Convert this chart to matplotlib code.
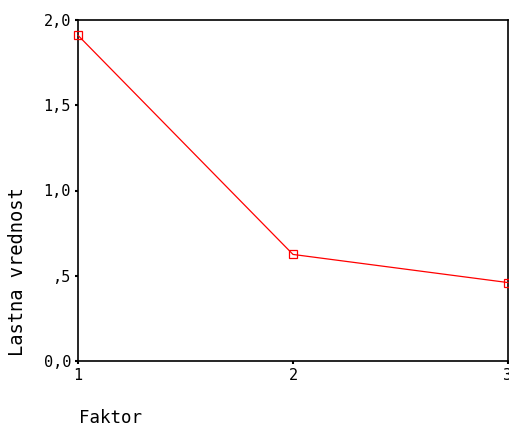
import matplotlib
matplotlib.use("Agg")
import matplotlib.pyplot as plt

factors = [1, 2, 3]
eigenvalues = [1.91, 0.625, 0.46]
y_ticks = [0.0, 0.5, 1.0, 1.5, 2.0]
y_labels = ["0,0", ",5", "1,0", "1,5", "2,0"]

plt.rcParams["font.family"] = "DejaVu Sans Mono"

fig = plt.figure(figsize=(5.1, 4.26), dpi=100)
ax = fig.add_axes([78 / 510, 65 / 426, 430 / 510, 341 / 426])

ax.plot(factors, eigenvalues, color="red", lw=0.9, marker="s", ms=6,
        mfc="none", mec="red", mew=0.9, clip_on=False, zorder=3)

ax.set_xlim(1, 3)
ax.set_ylim(0, 2.0)
ax.set_xticks(factors)
ax.set_xticklabels([str(f) for f in factors])
ax.set_yticks(y_ticks)
ax.set_yticklabels(y_labels)
ax.tick_params(direction="out", length=2, width=1.5, labelsize=11, pad=3)
for s in ax.spines.values():
    s.set_linewidth(1.2)

fig.text(79 / 510, 1 - 418 / 426, "Faktor", fontsize=12.6, ha="left", va="center")
fig.text(18 / 510, 1 - 272 / 426, "Lastna vrednost", fontsize=13.5,
         rotation=90, ha="center", va="center")

fig.savefig("out.png", dpi=100)
